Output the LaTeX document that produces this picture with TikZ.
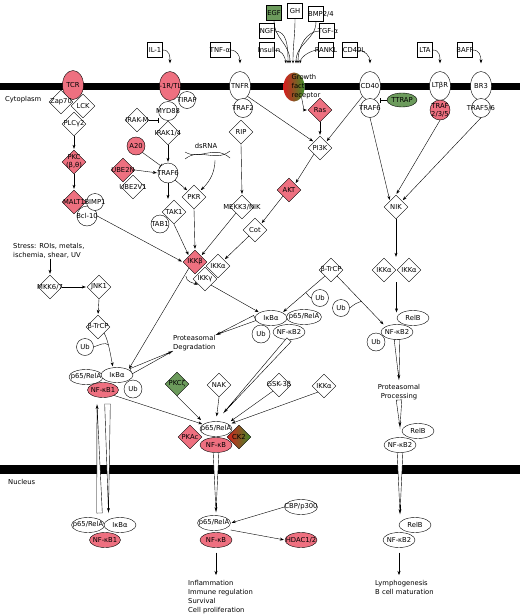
\documentclass[tikz,border=0pt]{standalone}
\usepackage{fontspec}
\setmainfont{DejaVu Sans}
\usetikzlibrary{shapes.geometric,arrows.meta,calc}
\definecolor{pk}{RGB}{238,112,128}
\definecolor{gn}{RGB}{108,155,92}
\definecolor{gfrA}{RGB}{215,30,30}
\definecolor{gfrM}{RGB}{200,120,40}
\definecolor{gfrB}{RGB}{60,140,40}
\newcommand\hwedge[2]{%
  \draw[fill=white] ($(#1)!2.8pt!90:(#2)$) -- (#2) -- ($(#1)!2.8pt!-90:(#2)$) -- cycle;
  \draw[act] ($(#1)!0.85!(#2)$) -- (#2);}
\begin{document}
\begin{tikzpicture}[x=1pt,y=-1pt,font=\fontsize{6.8}{9}\selectfont,
 every label/.style={inner sep=0pt, align=center, font=\fontsize{6.8}{8}\selectfont},
 dia/.style={diamond, draw, fill=white, minimum width=24pt, minimum height=24pt, inner sep=0pt},
 cir/.style={circle, draw, fill=white, minimum size=18pt, inner sep=0pt},
 ell/.style={ellipse, draw, fill=white, minimum width=32pt, minimum height=15pt, inner sep=0pt},
 rcp/.style={ellipse, draw, fill=white, minimum width=21pt, minimum height=29pt, inner sep=0pt},
 lig/.style={rectangle, draw, fill=white, minimum width=15pt, minimum height=15pt, inner sep=0pt},
 pkf/.style={fill=pk},
 gnf/.style={fill=gn},
 grad/.style={left color=gfrA, middle color=gfrM, right color=gfrB},
 act/.style={-{Stealth[length=4pt,width=3pt]}, shorten >=1pt},
 lact/.style={-{Stealth[length=3pt,width=2.4pt]}},
 inh/.style={-{Bar[width=5pt]}},
 txt/.style={inner sep=0pt, align=left},
]
\useasboundingbox (0,0) rectangle (520,616);
% membranes
\fill (0,83) rectangle (520,90);
\fill (0,465) rectangle (520,474);
\node[txt, anchor=west] (cyto) at (5,100) {Cytoplasm};
\node[txt, anchor=west] (nucl) at (8,482) {Nucleus};

% ligands
\node[lig, label=center:IL-1] (il1) at (155,50) {};
\node[lig, minimum width=20pt, label=center:TNF-α] (tnfa) at (220,50) {};
\node[lig, gnf, label=center:EGF] (egf) at (274,13) {};
\node[lig, label=center:GH] (gh) at (295,11) {};
\node[lig, label={[xshift=5pt]center:BMP2/4}] (bmp) at (316,14) {};
\node[lig, label=center:NGF] (ngf) at (267,31) {};
\node[lig, label={[xshift=1pt]center:TGF-α}] (tgfa) at (327,31) {};
\node[lig, label={[xshift=2pt]center:Insulin}] (ins) at (267,50) {};
\node[lig, label=center:RANKL] (rankl) at (326,50) {};
\node[lig, label={[xshift=4pt]center:CD40L}] (cd40l) at (350,50) {};
\node[lig, label=center:LTA] (lta) at (425,50) {};
\node[lig, label=center:BAFF] (baff) at (465,50) {};

% receptors
\node[rcp, pkf, label=center:TCR] (tcr) at (73,85) {};
\node[rcp, pkf, label=center:IL-1R/TLR] (il1r) at (170,86) {};
\node[rcp, label=center:TNFR] (tnfr) at (240,86) {};
\node[rcp, draw=none, grad] (gfr) at (294,87) {};
\node[txt] (gfrt) at (306,87) {Growth\\factor\\receptor};
\node[rcp, label=center:CD40] (cd40) at (370,86) {};
\node[rcp, label=center:LTβR] (ltbr) at (440,86) {};
\node[rcp, label=center:BR3] (br3) at (481,86) {};

% TCR branch
\node[dia, label=center:Zap70] (zap) at (61,102) {};
\node[dia, label=center:LCK] (lck) at (83,106) {};
\node[dia, label=center:PLCγ2] (plc) at (74,124) {};
\node[dia, pkf, label={center:{PKC\\(β,θ)}}] (pkc) at (74,162) {};
\node[cir, minimum size=20pt, label=center:Bcl-10] (bcl) at (87,216) {};
\node[cir, minimum size=17pt, label=center:BIMP1] (bimp) at (95,202) {};
\node[dia, pkf, label=center:MALT1] (malt) at (74,202) {};

% IL-1 branch
\node[cir, minimum size=17pt, label=center:TIRAP] (tirap) at (187,100) {};
\node[cir, minimum size=19pt, label=center:MYD88] (myd) at (168,111) {};
\node[dia, label=center:IRAK-M] (irakm) at (137,120) {};
\node[dia, label=center:IRAK1/4] (irak) at (168,133) {};
\node[cir, pkf, label=center:A20] (a20) at (136,146) {};
\node[cir, minimum size=20pt, label=center:TRAF6] (traf6) at (168,173) {};
\node[dia, label=center:UBE2V1] (ube2v) at (133,187) {};
\node[dia, pkf, label=center:UBE2N] (ube2n) at (123,170) {};
\node[dia, label=center:PKR] (pkr) at (194,197) {};
\node[dia, label=center:TAK1] (tak1) at (174,212) {};
\node[cir, label=center:TAB1] (tab1) at (160,224) {};
\draw (185,152) .. controls (200,161) and (214,144) .. (230,158);
\draw (185,159) .. controls (200,147) and (215,163) .. (230,151);
\node (dsrnat) at (206,146) {dsRNA};
\coordinate (dsrna) at (215,160);

% TNF branch
\node[cir, minimum size=19pt, label=center:TRAF2] (traf2) at (243,108) {};
\node[dia, label=center:RIP] (rip) at (241,132) {};
\node[dia, label=center:MEKK3/NIK] (mekk) at (242,207) {};
\node[dia, label=center:Cot] (cot) at (255,230) {};

% growth factor branch
\node[dia, pkf, label=center:Ras] (ras) at (320,110) {};
\node[dia, label=center:PI3K] (pi3k) at (320,148) {};
\node[dia, pkf, label=center:AKT] (akt) at (289,190) {};

% CD40 / LTbR / BR3
\node[cir, minimum size=19pt, label=center:TRAF6] (traf6b) at (370,108) {};
\node[ellipse, draw, gnf, minimum width=30pt, minimum height=14pt, inner sep=0pt, label=center:TTRAP] (ttrap) at (402,100) {};
\node[cir, pkf, minimum size=20pt, label={center:{TRAF\\2/3/5}}] (traf235) at (440,110) {};
\node[cir, minimum size=19pt, label=center:TRAF5/6] (traf56) at (481,108) {};
\node[dia, label=center:NIK] (nik) at (396,207) {};
\node[dia, label=center:IKKα] (ikka1) at (384,270) {};
\node[dia, label=center:IKKα] (ikka2) at (409,270) {};

% IKK complex
\node[dia, label=center:IKKα] (ikka) at (218,266) {};
\node[dia, label=center:IKKγ] (ikkg) at (205,279) {};
\node[dia, pkf, label=center:IKKβ] (ikkb) at (195,262) {};

% stress branch
\node[txt, anchor=west] (stress) at (13,251) {Stress: ROIs, metals,\\ischemia, shear, UV};
\node[dia, label=center:MKK6/7] (mkk) at (50,287) {};
\node[dia, label=center:JNK1] (jnk) at (99,287) {};
\node[dia, label=center:β-TrCP] (btr1) at (98,327) {};
\node[cir, minimum size=17pt, label=center:Ub] (ub1) at (85,347) {};

% left complex
\node[ell, minimum width=34pt, label=center:p65/RelA] (p65a) at (86,377) {};
\node[ell, label=center:IκBα] (ikba1) at (117,375) {};
\node[ell, pkf, minimum width=31pt, label=center:NF-κB1] (nfkb1a) at (103,390) {};
\node[cir, label=center:Ub] (ub4) at (133,389) {};
\node[txt, anchor=west] (pdeg) at (173,343) {Proteasomal\\Degradation};

% right IkBa complex
\node[ell, label=center:IκBα] (ikba2) at (271,318) {};
\node[ell, minimum width=35pt, label=center:p65/RelA] (p65b) at (304,317) {};
\node[cir, label=center:Ub] (ub5) at (261,334) {};
\node[ell, label=center:NF-κB2] (nfkb2a) at (289,332) {};
\node[dia, label=center:β-TrCP] (btr2) at (331,270) {};
\node[cir, minimum size=17pt, label=center:Ub] (ub2) at (320,298) {};
\node[cir, minimum size=17pt, label=center:Ub] (ub3) at (341,308) {};

% right column
\node[ell, label=center:RelB] (relb1) at (413,318) {};
\node[cir, label=center:Ub] (ub6) at (376,342) {};
\node[ell, label=center:NF-κB2] (nfkb2b) at (397,332) {};
\node[txt, align=center] (pproc) at (399,392) {Proteasomal\\Processing};
\node[ell, label=center:RelB] (relb2) at (418,431) {};
\node[ell, label=center:NF-κB2] (nfkb2c) at (400,445) {};

% middle
\node[dia, gnf, label=center:PKCζ] (pkcz) at (177,384) {};
\node[dia, label=center:NAK] (nak) at (219,385) {};
\node[dia, label=center:GSK-3β] (gsk) at (279,385) {};
\node[dia, label=center:IKKα] (ikka3) at (324,386) {};
\node[ell, label=center:p65/RelA] (p65c) at (216,429) {};
\node[ell, pkf, label=center:NF-κB] (nfkbc) at (216,445) {};
\node[dia, pkf, label=center:PKAc] (pkac) at (190,437) {};
\node[dia, grad, label=center:CK2] (ck2) at (239,437) {};

% nucleus
\node[ell, minimum width=33pt, label=center:p65/RelA] (p65d) at (88,525) {};
\node[ell, label=center:IκBα] (ikba3) at (120,525) {};
\node[ell, pkf, minimum width=31pt, label=center:NF-κB1] (nfkb1b) at (105,540) {};
\node[ell, minimum width=33pt, label=center:p65/RelA] (p65e) at (214,523) {};
\node[ell, pkf, label=center:NF-κB] (nfkbd) at (216,540) {};
\node[ell, minimum width=33pt, label=center:CBP/p300] (cbp) at (301,507) {};
\node[ell, pkf, label=center:HDAC1/2] (hdac) at (301,540) {};
\node[ell, label=center:RelB] (relb3) at (415,525) {};
\node[ell, label=center:NF-κB2] (nfkb2d) at (399,540) {};
\node[txt, anchor=north west] (infl) at (188,580) {Inflammation\\Immune regulation\\Survival\\Cell proliferation};
\node[txt, anchor=north west] (lymph) at (375,580) {Lymphogenesis\\B cell maturation};

% ligand arrows
\draw[act] (il1.east) .. controls +(7,0) and +(0,-8) .. ([yshift=7pt]il1r.north);
\draw[act] (tnfa.east) .. controls +(7,0) and +(0,-8) .. ([yshift=7pt]tnfr.north);
\draw[act] (cd40l.east) .. controls +(7,0) and +(0,-8) .. ([yshift=7pt]cd40.north);
\draw[act] (lta.east) .. controls +(7,0) and +(0,-8) .. ([yshift=7pt]ltbr.north);
\draw[act] (baff.east) .. controls +(7,0) and +(0,-8) .. ([yshift=7pt]br3.north);
\draw[lact] (egf.south) .. controls +(0,18) and +(0,-20) .. ([xshift=-4pt,yshift=9pt]gfr.north);
\draw[lact] (ngf.east) .. controls +(12,0) and +(0,-18) .. ([xshift=-6pt,yshift=9pt]gfr.north);
\draw[lact] (ins.east) .. controls +(7,0) and +(-1,-7) .. ([xshift=-8pt,yshift=9pt]gfr.north);
\draw[lact] (gh.south) .. controls +(0,18) and +(0,-20) .. ([xshift=-1pt,yshift=9pt]gfr.north);
\draw[lact] (bmp.south) .. controls +(0,18) and +(0,-20) .. ([xshift=2pt,yshift=9pt]gfr.north);
\draw[lact] (tgfa.west) .. controls +(-12,0) and +(0,-18) .. ([xshift=4pt,yshift=9pt]gfr.north);
\draw[lact] (rankl.west) .. controls +(-7,0) and +(1,-7) .. ([xshift=6pt,yshift=9pt]gfr.north);

% TCR
\draw[act] (plc.south) -- (pkc.north);
\draw[act] (pkc.south) -- (malt.north);
\draw[act] (bcl.east) -- (ikkb.west);
% IL-1
\draw[inh] (irakm.east) -- (irakm.east -| myd.west);
\draw[act] (irak.south) -- (traf6.north);
\draw[inh] (a20.south east) -- (traf6.north west);
\draw[act] (ube2n.east) -- (traf6.west);
\draw[act] (traf6.south east) -- (pkr.north west);
\draw[act] (traf6.south) -- (traf6.south |- tak1.north);
\draw[act] (dsrna) .. controls +(0,16) and +(6,-6) .. (pkr.north east);
\draw[act] (tak1.south) -- (ikkb.north west);
\draw[act] (pkr.south) -- (ikkb.north);
% TNF
\draw[act] (rip.south) -- (mekk.north);
\draw[act] (mekk.south west) -- (ikkb.north east);
\draw[act] (cot.south west) -- (ikka.north east);
\draw[act] (tnfr.south east) -- (pi3k.north west);
% GF
\draw[act] (gfr.south east) .. controls +(1,5) and +(-4,0) .. (ras.west);
\draw[act] (ras.south) -- (pi3k.north);
\draw[act] (cd40.south west) -- (pi3k.north east);
\draw[act] (pi3k.south west) -- (akt.north east);
\draw[act] (akt.south west) -- (cot.north east);
% non-canonical
\draw[inh] (ttrap.west) -- (ttrap.west -| traf6b.east);
\draw[act] (traf6b.south) -- (nik.north west);
\draw[act] (traf235.south) -- (nik.north);
\draw[act] (traf56.south) -- (nik.north east);
\draw[act] (nik.south) -- (nik.south |- ikka1.north);
\coordinate (ikkp) at ($(ikka1.south)!0.5!(ikka2.south)$);
\draw[act, shorten >=12pt] (ikkp) -- (ikkp |- nfkb2b.north);
\draw[act] (btr2.south west) -- coordinate[pos=0.45] (j1) (ikba2.north east);
\draw (ub2.west) .. controls +(-4,-2) and +(3,2) .. (j1);
\draw[act, shorten >=3pt] (btr2.south east) -- coordinate[pos=0.5] (j2) (nfkb2b.north west);
\draw (ub3.east) .. controls +(5,-4) and +(-4,1) .. (j2);
% stress
\draw[act] (stress.south -| mkk.north) -- (mkk.north);
\draw[act] (mkk.east) -- (jnk.west);
\draw[act] (jnk.south) -- (btr1.north);
\draw[act] (btr1.south east) .. controls +(4,6) and +(-2,-10) .. coordinate[pos=0.4] (j3) ([xshift=-4pt]ikba1.north);
\draw (ub1.east) .. controls +(5,-2) and +(-3,-3) .. (j3);
% IKK
\draw[act] (ikkb.south west) -- (ikba1.north east);
\draw[act] ([xshift=-3pt,yshift=-8pt]ikkb.south west) .. controls +(0,6) and +(-5,-2) .. (ikkg.south west);
\draw[act] (ikkg.south east) -- (ikba2.north west);
% wedges
\hwedge{ikba1.15}{pdeg.south west}
\hwedge{ikba2.west}{pdeg.north east}
\coordinate (w1a) at (99.5,513);
\coordinate (w1b) at (97,404);
\coordinate (w2a) at (107.5,404);
\coordinate (w2b) at (108.5,513);
\hwedge{w1a}{w1b}
\hwedge{w2a}{w2b}
\coordinate (wt3) at ($(nfkb2a.south)!0.9!(p65c.north)$);
\hwedge{nfkb2a.south}{wt3}
\coordinate (wt4) at ([yshift=3pt]nfkbc.south |- p65e.north);
\hwedge{nfkbc.south}{wt4}
\coordinate (wt5) at ([yshift=4pt]pproc.north);
\hwedge{nfkb2b.south}{wt5}
\coordinate (wt6) at ([yshift=10pt]nfkb2c.north);
\hwedge{pproc.south}{wt6}
\coordinate (wt7) at ([yshift=3pt]nfkb2c.south |- relb3.north);
\hwedge{nfkb2c.south}{wt7}
% convergence on p65/RelA
\draw[act] (nfkb1a.south east) -- (p65c.160);
\draw[act, shorten >=5pt] (pkcz.south) -- (p65c.north west);
\draw[act, shorten >=5pt] (nak.south) -- (p65c.north);
\draw[act, shorten >=4pt] (gsk.south west) -- (p65c.north east);
\draw[act, shorten >=3pt] (ikka3.south west) -- (p65c.20);
% nucleus
\draw[act] (cbp.west) -- (p65e.east);
\draw[act] ([yshift=-7pt]p65e.east) -- (hdac.west);
\draw[act, shorten <=5pt, shorten >=5pt] (nfkbd.south) -- (nfkbd.south |- infl.north);
\draw[act, shorten <=5pt, shorten >=5pt] (nfkb2d.south) -- (nfkb2d.south |- lymph.north);
\end{tikzpicture}
\end{document}
